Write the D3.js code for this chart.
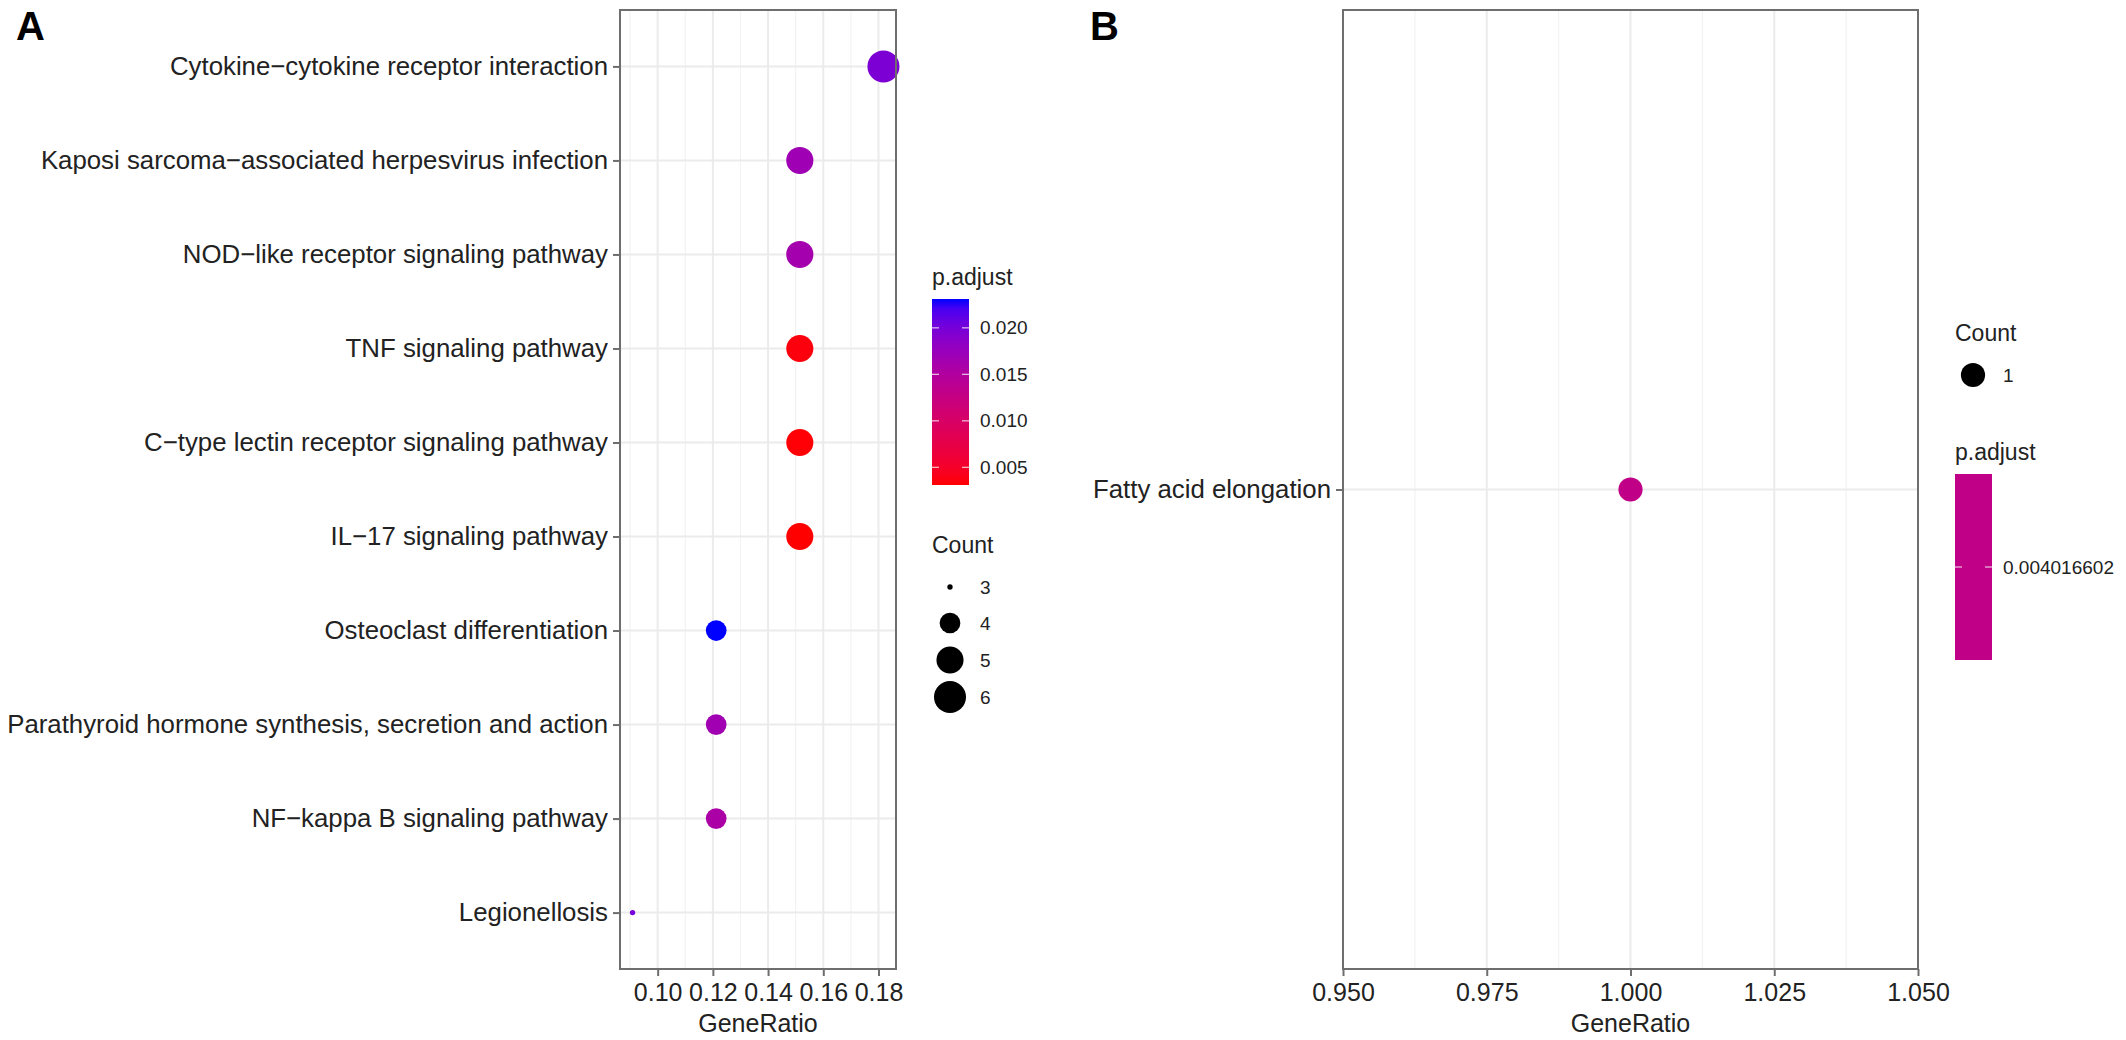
<!DOCTYPE html>
<html>
<head>
<meta charset="utf-8">
<script src="https://cdn.jsdelivr.net/npm/d3@7"></script>
<style>
  html, body { margin: 0; padding: 0; background: #fff; }
  svg { display: block; font-family: "Liberation Sans", Arial, Helvetica, sans-serif; }
</style>
</head>
<body>
<svg id="chart" width="2126" height="1040"></svg>
<script>
// ---------------- DATA ----------------
const categoriesA = [
  "Cytokine\u2212cytokine receptor interaction",
  "Kaposi sarcoma\u2212associated herpesvirus infection",
  "NOD\u2212like receptor signaling pathway",
  "TNF signaling pathway",
  "C\u2212type lectin receptor signaling pathway",
  "IL\u221217 signaling pathway",
  "Osteoclast differentiation",
  "Parathyroid hormone synthesis, secretion and action",
  "NF\u2212kappa B signaling pathway",
  "Legionellosis"
];
const geneRatioA = [0.1818, 0.1515, 0.1515, 0.1515, 0.1515, 0.1515, 0.1212, 0.1212, 0.1212, 0.0909];
const countA     = [6, 5, 5, 5, 5, 5, 4, 4, 4, 3];
const pAdjustA   = [0.0196, 0.0169, 0.0163, 0.0035, 0.0033, 0.0031, 0.0231, 0.0167, 0.0157, 0.0200];
const xTicksA    = [0.10, 0.12, 0.14, 0.16, 0.18];
const pTicksA    = [0.005, 0.010, 0.015, 0.020];
const countLegendA = [3, 4, 5, 6];

const categoriesB = ["Fatty acid elongation"];
const geneRatioB  = [1.0];
const countB      = [1];
const pAdjustB    = [0.004016602];
const xTicksB     = [0.950, 0.975, 1.000, 1.025, 1.050];
const pTicksB     = ["0.004016602"];
const countLegendB = [1];

// ---------------- STYLE ----------------
const FONT_TICK = 25;
const FONT_YLAB = 25.8;
const FONT_TITLE = 25;
const FONT_LEG_TITLE = 23;
const FONT_LEG_TEXT = 19;
const TXT = "#222222";
const BORDER = "#6e6e6e";
const GRID_MAJOR = "#ebebeb";
const GRID_MINOR = "#f3f3f3";

const svg = d3.select("#chart");

// size mapping like ggplot scale_size (area palette, range 1..6)
function sizeScale(vals) {
  const lo = d3.min(vals), hi = d3.max(vals);
  const s = d3.scaleSqrt().domain([0, 1]).range([2.67, 16]);
  return v => s(hi === lo ? 0.5 : (v - lo) / (hi - lo));
}
function colorScale(vals) {
  const lo = d3.min(vals), hi = d3.max(vals);
  const c = d3.scaleLinear().domain([0, 1]).range(["#ff0000", "#0000ff"]).interpolate(d3.interpolateLab);
  return v => c(hi === lo ? 0.5 : (v - lo) / (hi - lo));
}

function drawPanel(cfg) {
  const g = svg.append("g");
  const { left, right, top, bottom } = cfg.box;

  const x = d3.scaleLinear().domain(cfg.xDomain).range([left, right]);
  const y = d3.scalePoint().domain(cfg.categories).range([top, bottom]).padding(0.6);

  g.append("g").selectAll("line").data(cfg.minorX).join("line")
    .attr("x1", d => x(d)).attr("x2", d => x(d))
    .attr("y1", top).attr("y2", bottom)
    .attr("stroke", GRID_MINOR).attr("stroke-width", 1.2);
  g.append("g").selectAll("line").data(cfg.xTicks).join("line")
    .attr("x1", d => x(d)).attr("x2", d => x(d))
    .attr("y1", top).attr("y2", bottom)
    .attr("stroke", GRID_MAJOR).attr("stroke-width", 2);
  g.append("g").selectAll("line").data(cfg.categories).join("line")
    .attr("x1", left).attr("x2", right)
    .attr("y1", d => y(d)).attr("y2", d => y(d))
    .attr("stroke", GRID_MAJOR).attr("stroke-width", 2);

  const size = sizeScale(cfg.counts);
  const col = colorScale(cfg.pAdjust);
  g.append("g").selectAll("circle").data(cfg.categories).join("circle")
    .attr("cx", (d, i) => x(cfg.geneRatio[i]))
    .attr("cy", d => y(d))
    .attr("r", (d, i) => size(cfg.counts[i]))
    .attr("fill", (d, i) => col(cfg.pAdjust[i]));

  g.append("rect").attr("x", left).attr("y", top)
    .attr("width", right - left).attr("height", bottom - top)
    .attr("fill", "none").attr("stroke", BORDER).attr("stroke-width", 2);

  const xAxis = d3.axisBottom(x).tickValues(cfg.xTicks).tickFormat(d3.format(cfg.xFormat))
    .tickSize(7).tickPadding(7);
  const ax = g.append("g").attr("transform", `translate(0,${bottom})`).call(xAxis);
  ax.select(".domain").remove();
  ax.selectAll(".tick line").attr("stroke", BORDER).attr("stroke-width", 2);
  ax.selectAll(".tick text").attr("fill", TXT).attr("font-size", FONT_TICK)
    .attr("font-family", "Liberation Sans, Arial, sans-serif").attr("dy", "0.72em");

  const yAxis = d3.axisLeft(y).tickSize(7).tickPadding(5);
  const ay = g.append("g").attr("transform", `translate(${left},0)`).call(yAxis);
  ay.select(".domain").remove();
  ay.selectAll(".tick line").attr("stroke", BORDER).attr("stroke-width", 2);
  ay.selectAll(".tick text").attr("fill", TXT).attr("font-size", FONT_YLAB)
    .attr("font-family", "Liberation Sans, Arial, sans-serif");

  g.append("text").attr("x", (left + right) / 2).attr("y", 1032)
    .attr("text-anchor", "middle").attr("font-size", FONT_TITLE).attr("fill", TXT)
    .text("GeneRatio");

  g.append("text").attr("x", cfg.tag.x).attr("y", cfg.tag.y)
    .attr("font-size", 40).attr("font-weight", "bold").attr("fill", "#000")
    .text(cfg.tag.text);

  return { size, col };
}

function drawColorbar(cfg, col, id) {
  const g = svg.append("g");
  const { x0, y0, w, h } = cfg.bar;
  const lo = d3.min(cfg.pAdjust), hi = d3.max(cfg.pAdjust);
  const defs = svg.append("defs");
  const grad = defs.append("linearGradient").attr("id", id)
    .attr("x1", 0).attr("y1", 1).attr("x2", 0).attr("y2", 0);
  d3.range(0, 1.0001, 0.05).forEach(t => {
    grad.append("stop").attr("offset", t)
      .attr("stop-color", col(lo + t * (hi - lo)));
  });
  g.append("text").attr("x", x0).attr("y", y0 - 14)
    .attr("font-size", FONT_LEG_TITLE).attr("fill", TXT).text("p.adjust");
  g.append("rect").attr("x", x0).attr("y", y0).attr("width", w).attr("height", h)
    .attr("fill", `url(#${id})`);
  const ly = d3.scaleLinear().domain([lo, hi]).range([y0 + h, y0]);
  cfg.pTicks.forEach(t => {
    const yy = hi === lo ? y0 + h / 2 : ly(+t);
    g.append("line").attr("x1", x0).attr("x2", x0 + 7).attr("y1", yy).attr("y2", yy)
      .attr("stroke", "#fff").attr("stroke-opacity", 0.7).attr("stroke-width", 1.3);
    g.append("line").attr("x1", x0 + w - 7).attr("x2", x0 + w).attr("y1", yy).attr("y2", yy)
      .attr("stroke", "#fff").attr("stroke-opacity", 0.7).attr("stroke-width", 1.3);
    g.append("text").attr("x", x0 + w + 11).attr("y", yy).attr("dy", "0.35em")
      .attr("font-size", FONT_LEG_TEXT).attr("fill", TXT)
      .text(typeof t === "string" ? t : d3.format(".3f")(t));
  });
}

function drawCountLegend(cfg, size) {
  const g = svg.append("g");
  g.append("text").attr("x", cfg.cnt.x0).attr("y", cfg.cnt.titleY)
    .attr("font-size", FONT_LEG_TITLE).attr("fill", TXT).text("Count");
  cfg.countLegend.forEach((c, i) => {
    const yy = cfg.cnt.ys[i];
    g.append("circle").attr("cx", cfg.cnt.cx).attr("cy", yy).attr("r", size(c)).attr("fill", "#000");
    g.append("text").attr("x", cfg.cnt.tx).attr("y", yy).attr("dy", "0.35em")
      .attr("font-size", FONT_LEG_TEXT).attr("fill", TXT).text(c);
  });
}

// ---------------- PANEL A ----------------
const loA = d3.min(geneRatioA), hiA = d3.max(geneRatioA), padA = (hiA - loA) * 0.05;
const cfgA = {
  box: { left: 620, right: 896, top: 10, bottom: 969 },
  xDomain: [loA - padA, hiA + padA],
  categories: categoriesA, geneRatio: geneRatioA, counts: countA, pAdjust: pAdjustA,
  xTicks: xTicksA, minorX: [0.09, 0.11, 0.13, 0.15, 0.17], xFormat: ".2f",
  tag: { x: 16, y: 40, text: "A" },
  bar: { x0: 932, y0: 299, w: 37, h: 186 },
  pTicks: pTicksA,
  countLegend: countLegendA,
  cnt: { x0: 932, titleY: 553, cx: 950, tx: 980, ys: [587, 623, 660, 697] }
};
const a = drawPanel(cfgA);
drawColorbar(cfgA, a.col, "gradA");
drawCountLegend(cfgA, a.size);

// ---------------- PANEL B ----------------
const cfgB = {
  box: { left: 1343, right: 1918, top: 10, bottom: 969 },
  xDomain: [0.95, 1.05],
  categories: categoriesB, geneRatio: geneRatioB, counts: countB, pAdjust: pAdjustB,
  xTicks: xTicksB, minorX: [0.9625, 0.9875, 1.0125, 1.0375], xFormat: ".3f",
  tag: { x: 1090, y: 40, text: "B" },
  bar: { x0: 1955, y0: 474, w: 37, h: 186 },
  pTicks: pTicksB,
  countLegend: countLegendB,
  cnt: { x0: 1955, titleY: 341, cx: 1973, tx: 2003, ys: [375] }
};
const b = drawPanel(cfgB);
drawColorbar(cfgB, b.col, "gradB");
drawCountLegend(cfgB, b.size);
</script>
</body>
</html>
